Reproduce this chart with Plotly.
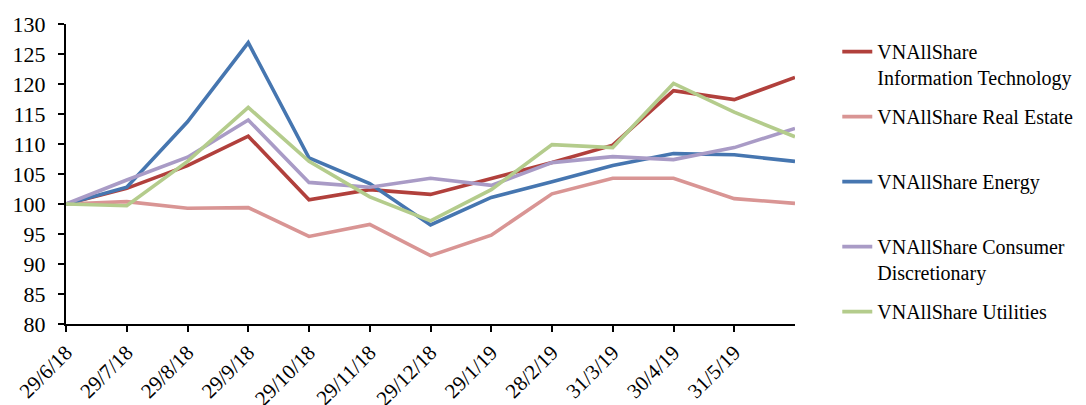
import plotly.graph_objects as go

dates = ["29/6/18", "29/7/18", "29/8/18", "29/9/18", "29/10/18", "29/11/18",
         "29/12/18", "29/1/19", "28/2/19", "31/3/19", "30/4/19", "31/5/19", ""]

info_tech = [100, 102.6, 106.4, 111.3, 100.7, 102.4, 101.6, 104.2, 106.9, 109.8, 118.9, 117.4, 121.1]
real_estate = [100, 100.4, 99.3, 99.4, 94.6, 96.6, 91.4, 94.8, 101.7, 104.3, 104.3, 100.9, 100.1]
energy = [100, 102.8, 113.7, 126.9, 107.7, 103.4, 96.5, 101.1, 103.7, 106.4, 108.4, 108.2, 107.1]
consumer = [100, 104.0, 107.8, 114.0, 103.6, 102.8, 104.3, 103.1, 106.9, 107.9, 107.4, 109.4, 112.6]
utilities = [100, 99.7, 107.1, 116.1, 107.1, 101.2, 97.2, 102.4, 109.9, 109.4, 120.1, 115.3, 111.2]

series_names = ["VNAllShare<br>Information Technology",
                "VNAllShare Real Estate<br> ",
                "VNAllShare Energy<br> ",
                "VNAllShare Consumer<br>Discretionary",
                "VNAllShare Utilities<br> "]
series_values = [info_tech, real_estate, energy, consumer, utilities]
series_colors = ["#B1403C", "#D99594", "#4676B0", "#A99BC6", "#B4CC8C"]

x_idx = list(range(len(dates)))

fig = go.Figure()
for i, (name, vals, col) in enumerate(zip(series_names, series_values, series_colors)):
    fig.add_trace(go.Scatter(
        x=x_idx, y=vals, name=name, mode="lines",
        line=dict(color=col, width=3.6),
        legendgroup=f"g{i}",
    ))

fig.update_layout(
    width=1086, height=405,
    margin=dict(l=58, r=299, t=16, b=89, autoexpand=False),
    paper_bgcolor="white", plot_bgcolor="white",
    font=dict(family="Liberation Serif", size=20, color="black"),
    showlegend=True,
    legend=dict(
        x=1.058, xanchor="left", y=0.973, yanchor="top",
        font=dict(family="Liberation Serif", size=20, color="black"),
        tracegroupgap=10, valign="top", bgcolor="rgba(0,0,0,0)",
        maxheight=400,
    ),
    xaxis=dict(
        range=[0, 12], tickmode="array",
        tickvals=x_idx[:-1], ticktext=dates[:-1],
        tickangle=-45, showline=True, linecolor="black", linewidth=2,
        ticks="outside", ticklen=6, tickwidth=2, tickcolor="black",
        showgrid=False, zeroline=False,
        tickfont=dict(family="Liberation Serif", size=21),
    ),
    yaxis=dict(
        range=[80, 130], dtick=5, tick0=80,
        showline=True, linecolor="black", linewidth=2,
        ticks="outside", ticklen=6, tickwidth=2, tickcolor="black",
        ticklabelstandoff=8,
        showgrid=False, zeroline=False,
        tickfont=dict(family="Liberation Serif", size=22),
    ),
)

fig.write_html("out.html")
